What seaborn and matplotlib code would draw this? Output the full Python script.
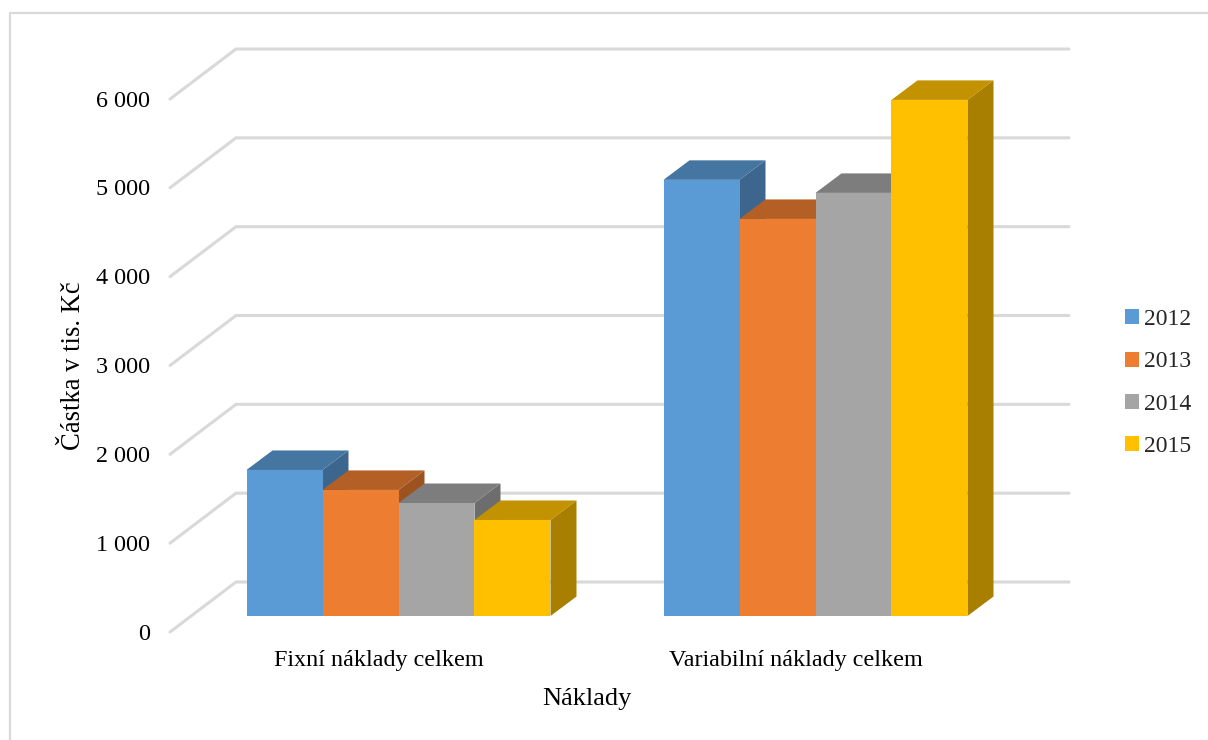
import matplotlib
matplotlib.use("Agg")
import matplotlib.pyplot as plt
from matplotlib.lines import Line2D
from matplotlib.patches import Polygon
import pandas as pd
import seaborn as sns

categories = ["Fixní náklady celkem", "Variabilní náklady celkem"]
years = ["2012", "2013", "2014", "2015"]
fixed_costs = [1644, 1419, 1272, 1081]
variable_costs = [4910, 4470, 4763, 5810]
axis_values = [0, 1000, 2000, 3000, 4000, 5000, 6000]
palette = ["#5B9BD5", "#ED7D31", "#A5A5A5", "#FFC000"]

W, H = 1208, 740
PX_PER_UNIT_X = 417.0      # pixels between the two category centres
PX_PER_VALUE = 88.83 / 1000  # pixels per unit of value
X0, Y0 = 398.5, 616.0      # pixel position of category 0 at value 0
AX_L, AX_R, AX_B, AX_T = 170, 1069, 632, 30

sns.set_theme(style="white", rc={"font.family": ["Liberation Serif"]})
plt.rcParams["font.family"] = ["Liberation Serif", "DejaVu Serif"]

df = pd.DataFrame({
    "Náklady": [c for c in categories for _ in years],
    "Rok": years * 2,
    "Částka": fixed_costs + variable_costs,
})

fig = plt.figure(figsize=(W / 100, H / 100), dpi=100, facecolor="white")
ax = fig.add_axes([AX_L / W, 1 - AX_B / H, (AX_R - AX_L) / W, (AX_B - AX_T) / H])
ax.patch.set_alpha(0)

sns.barplot(data=df, x="Náklady", y="Částka", hue="Rok", hue_order=years,
            palette=palette, saturation=1, width=0.729, gap=0, linewidth=0, ax=ax)

ax.set_xlim((AX_L - X0) / PX_PER_UNIT_X, (AX_R - X0) / PX_PER_UNIT_X)
ax.set_ylim((Y0 - AX_B) / PX_PER_VALUE, (Y0 - AX_T) / PX_PER_VALUE)

depth_x = 26 / PX_PER_UNIT_X
depth_y = 19.5 / PX_PER_VALUE


def shade(colour, factor):
    r, g, b = matplotlib.colors.to_rgb(colour)
    return (r * factor, g * factor, b * factor)


# Extruded sides and tops, stacked left to right so each bar covers its neighbour
order = 10
bars = sorted((b for c in ax.containers for b in c), key=lambda b: b.get_x())
for bar in bars:
    x, w, h = bar.get_x(), bar.get_width(), bar.get_height()
    colour = bar.get_facecolor()
    ax.add_patch(Polygon(
        [(x + w, 0), (x + w + depth_x, depth_y), (x + w + depth_x, h + depth_y), (x + w, h)],
        closed=True, facecolor=shade(colour, 0.66), edgecolor="none", zorder=order))
    ax.add_patch(Polygon(
        [(x, h), (x + depth_x, h + depth_y), (x + w + depth_x, h + depth_y), (x + w, h)],
        closed=True, facecolor=shade(colour, 0.76), edgecolor="none", zorder=order))
    bar.set_edgecolor("none")
    bar.set_zorder(order + 1)
    order += 2

# Back wall and left wall gridlines
wall_dx = 66 / PX_PER_UNIT_X
wall_dy = 50 / PX_PER_VALUE
x_left, x_right = ax.get_xlim()
floor = (Y0 - AX_B) / PX_PER_VALUE
for v in axis_values:
    ax.plot([x_left, x_left + wall_dx, x_right],
            [floor + v, floor + v + wall_dy, floor + v + wall_dy],
            color="#D9D9D9", lw=2.2, solid_capstyle="round",
            solid_joinstyle="miter", zorder=1, clip_on=False)

label_shift = (Y0 - 631.5) / PX_PER_VALUE
ax.set_yticks([v + label_shift for v in axis_values],
              [f"{v:,}".replace(",", " ") for v in axis_values])
ax.set_xticks([-20 / PX_PER_UNIT_X, 1 - 20 / PX_PER_UNIT_X], categories)
ax.tick_params(axis="both", length=0, labelsize=17.4, colors="black")
ax.tick_params(axis="y", pad=14.5)
ax.tick_params(axis="x", pad=13)
sns.despine(ax=ax, left=True, bottom=True)

ax.set_xlabel("Náklady", fontsize=19, color="black", va="center")
ax.xaxis.set_label_coords((587 - AX_L) / (AX_R - AX_L), (AX_B - 699) / (AX_B - AX_T))
ax.set_ylabel("Částka v tis. Kč", fontsize=19.2, color="black", va="center")
ax.yaxis.set_label_coords((73 - AX_L) / (AX_R - AX_L), (AX_B - 366) / (AX_B - AX_T))

sns.move_legend(ax, loc="center left", bbox_to_anchor=(1125 / W, 1 - 383 / H),
                bbox_transform=fig.transFigure, frameon=False, title=None,
                fontsize=17, handlelength=0.6, handleheight=0.6,
                handletextpad=0.22, labelspacing=0.9, borderpad=0, borderaxespad=0)

# Thin frame around the chart area
frame = Line2D([10 / W, 10 / W, 1], [0, 1 - 13 / H, 1 - 13 / H],
               transform=fig.transFigure, color="#D9D9D9", lw=1.6)
fig.add_artist(frame)

fig.savefig("out.png", dpi=100)
